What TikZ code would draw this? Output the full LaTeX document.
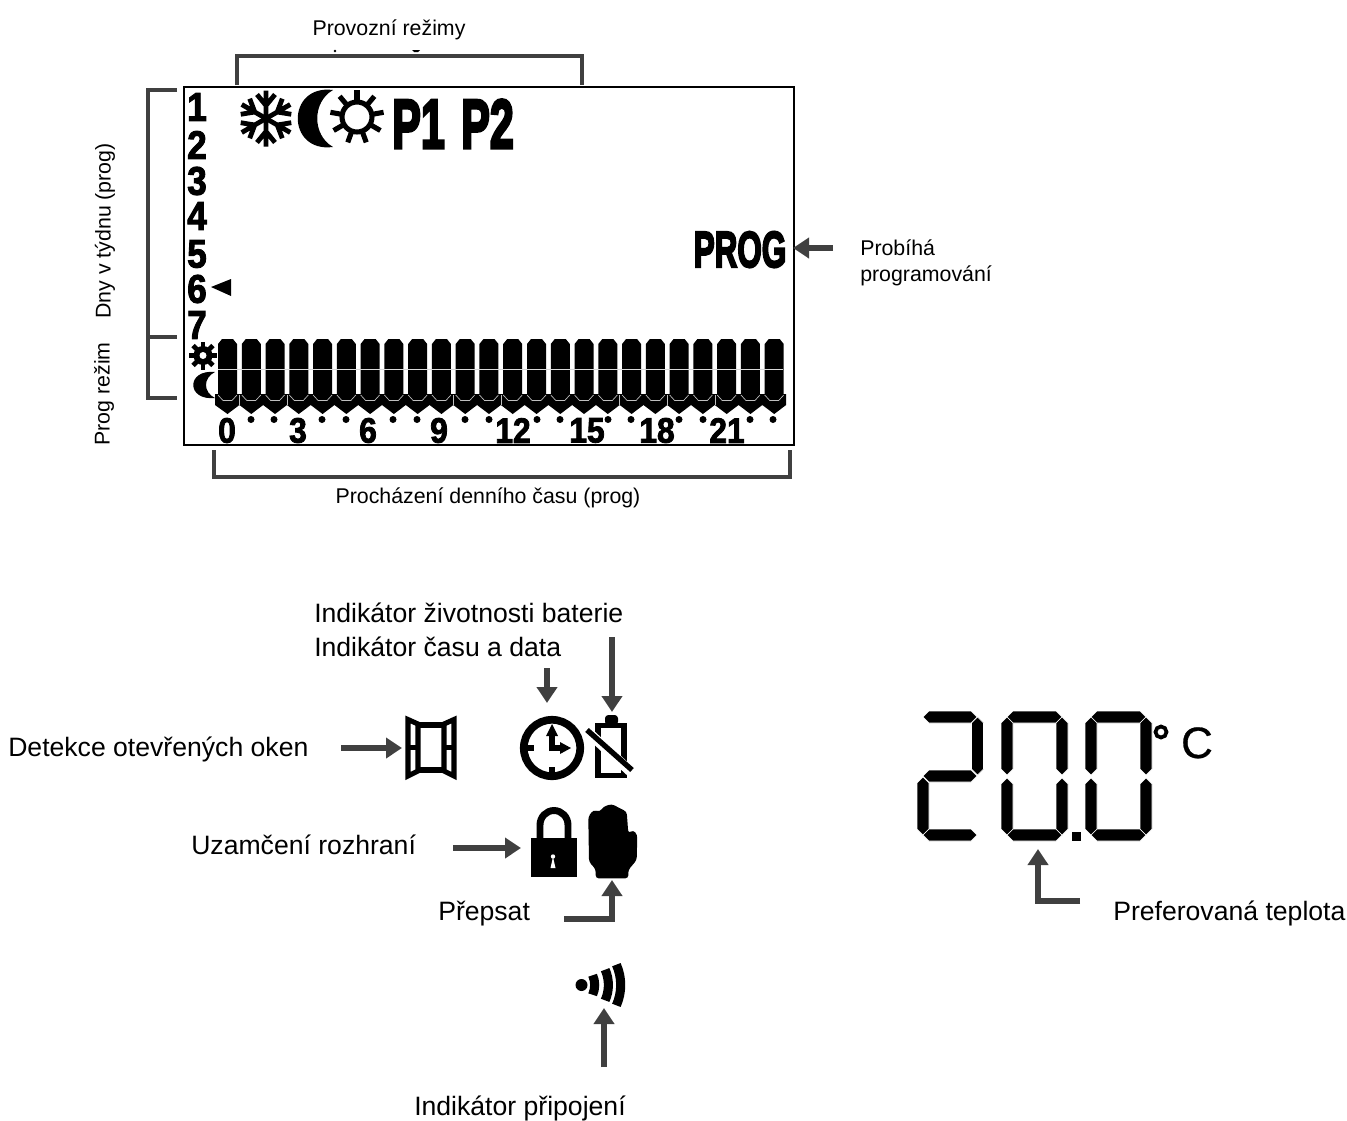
\documentclass[tikz,border=0pt]{standalone}
\usepackage{fontspec}
\usepackage{graphicx}
\setmainfont{Liberation Sans}
\newfontfamily\heavy{Liberation Sans}[UprightFont=* Bold,FakeBold=2.5]
\newfontfamily\heavier{Liberation Sans}[UprightFont=* Bold,FakeBold=4.5]
\newfontfamily\medfont{Liberation Sans}[FakeBold=.6]
\usetikzlibrary{arrows.meta}
\definecolor{arrowgrey}{HTML}{404040}
\newcommand{\smalltxt}{\fontsize{16}{20}\selectfont}
\newcommand{\bigtxt}{\fontsize{19.95}{25}\selectfont}
\newcommand{\condtxt}[3]{\scalebox{#2}[1]{\fontsize{#1}{#1}\heavier #3}}
\newcommand{\hseg}[3]{\fill[black,draw=white,line width=.5pt] (#1,#3) -- ({#1+6},{#3-6}) -- ({#2-6},{#3-6}) -- (#2,#3) -- ({#2-6},{#3+6}) -- ({#1+6},{#3+6}) -- cycle;}
\newcommand{\vseg}[3]{\fill[black,draw=white,line width=.5pt] (#1,#2) -- ({#1+6},{#2+6}) -- ({#1+6},{#3-6}) -- (#1,#3) -- ({#1-6},{#3-6}) -- ({#1-6},{#2+6}) -- cycle;}
\tikzset{
  x=.75pt,y=-.75pt,
  bracketline/.style={draw=arrowgrey,line width=3pt},
  callout/.style={draw=arrowgrey,line width=4.4pt,-{Triangle[length=12pt,width=15pt]}},
  lab/.style={inner sep=0pt,anchor=base west},
  labc/.style={inner sep=0pt,anchor=base},
  smalllab/.style={lab,font=\smalltxt},
  biglab/.style={lab,font=\bigtxt},
  daynum/.style={inner sep=0pt},
  hournum/.style={inner sep=0pt},
}
\begin{document}
\begin{tikzpicture}
\useasboundingbox (0,0) rectangle (1347,1121);
% display frame
\node[draw=black,line width=1.6pt,inner sep=0pt,minimum width=610*.75pt,minimum height=358*.75pt,anchor=north west] (display) at (183,86) {};
% brackets
\coordinate (ta) at (237,85); \coordinate (tb) at (582,85);
\draw[bracketline] (ta) -- (237,56) -- (582,56) -- (tb);
\coordinate (la) at (177,90); \coordinate (lb) at (177,398); \coordinate (lm) at (177,337);
\draw[bracketline] (la) -- (148,90) -- (148,398) -- (lb);
\draw[bracketline] (148,337) -- (lm);
\coordinate (ba) at (214,450); \coordinate (bb) at (790,450);
\draw[bracketline] (ba) -- (214,477) -- (790,477) -- (bb);
\fill (335,51) circle (1pt);
\fill (412,50) -- (420,50) -- (418,52) -- (414,52) -- cycle;
% labels
\node[labc,font=\smalltxt] (modes) at (389,35) {Provozní režimy};
\node[inner sep=0pt,font=\smalltxt,rotate=90] (days) at (105,231) {Dny v týdnu (prog)};
\node[inner sep=0pt,font=\smalltxt,rotate=90] (progmode) at (104,394) {Prog režim};
\node[labc,font=\smalltxt] (daytime) at (488,503) {Procházení denního času (prog)};
\node[smalllab] (prog1) at (860,255) {Probíhá};
\node[smalllab] (prog2) at (860,281) {programování};
\node[biglab] (battery) at (314,622) {Indikátor životnosti baterie};
\node[biglab] (clock) at (314,656) {Indikátor času a data};
\node[biglab] (window) at (8,756) {Detekce otevřených oken};
\node[biglab] (lock) at (191,854) {Uzamčení rozhraní};
\node[biglab] (override) at (438,920) {Přepsat};
\node[biglab] (wifi) at (414,1115) {Indikátor připojení};
\node[biglab] (pref) at (1113,920) {Preferovaná teplota};
% day numbers
\foreach \n/\yy in {1/107,2/145,3/181,4/216,5/254,6/289,7/325}
  \node[daynum] (day\n) at (197,\yy) {\scalebox{.88}[1]{\fontsize{30}{30}\heavy \n}};
\fill (211,287) -- (231,279) -- (231,296) -- cycle;
% snowflake
\foreach \a in {30,90,150,210,270,330}
  \draw[black,line width=3.6pt,shift={(266,118.5)},rotate=\a] (0,0) -- (28,0) (13,0) -- (24,9) (13,0) -- (24,-9);
% big moon
\fill (333,90) .. controls (286,84) and (286,153) .. (333,147) .. controls (312,135) and (312,102) .. cycle;
% sun
\draw[black,line width=3.8pt] (357,117) circle (15);
\foreach \a in {90,130,170,210,250,290,330,370,410}
  \draw[black,line width=3.8pt,shift={(357,117)},rotate=\a] (17,0) -- (27,0);
% P1 P2 PROG
\node[inner sep=0pt,anchor=base] (p1) at (418.5,148) {\condtxt{52}{.62}{P1}};
\node[inner sep=0pt,anchor=base] (p2) at (487.5,148) {\condtxt{52}{.62}{P2}};
\node[inner sep=0pt,anchor=base] (progt) at (740,267) {\condtxt{38}{.62}{PROG}};
% small sun and moon
\fill (203,355.5) circle (9.5);
\foreach \a in {0,45,...,315}
  \draw[black,line width=3.6pt,shift={(203,355.5)},rotate=\a] (0,0) -- (14,0);
\fill[white] (203,355.5) circle (3.5);
\fill (215,372) .. controls (186,369) and (186,401) .. (215,398) .. controls (203,392) and (203,378) .. cycle;
% bottom zigzag band
\fill (215,394) -- (215,405)
  \foreach \i in {0,...,23} { -- ({227.5+23.77*\i},414) -- ({239.4+23.77*\i},405) } -- (786,405) -- (786,394) -- cycle;
% bars
\foreach \i in {0,...,23} {
  \pgfmathsetmacro{\bx}{218+23.77*\i}
  \fill (\bx,344) -- ({\bx+4},339) -- ({\bx+15},339) -- ({\bx+19},344) -- ({\bx+19},395) -- ({\bx+14},400.5) -- ({\bx+5},400.5) -- (\bx,395) -- cycle;
  \draw[white!75!black,line width=.5pt] (\bx,395) -- ({\bx+5},400.5) -- ({\bx+14},400.5) -- ({\bx+19},395);
}
\draw[white!85!black,line width=.6pt] (218,369) -- (783,369);
\foreach \sx in {239,287,453,501,619,667,715}
  \draw[white!75!black,line width=.5pt] (\sx,395) -- (\sx,405);
% hour marks
\foreach \t/\hx in {0/227,3/298,6/368,9/439,12/513,15/587,18/657,21/727}
  \node[hournum] (hour\t) at (\hx,430.5) {\scalebox{.9}[1]{\fontsize{26.5}{26.5}\heavy \t}};
\foreach \dx in {251,274,322,346,393,417,465,489,537,560,608,631,679,703,750,773}
  \fill (\dx,419.5) circle (3.5);
% window icon
\begin{scope}[line width=3.8pt,draw=black,miter limit=10]
  \draw (408,719.5) -- (418,724) -- (418,771) -- (408,776) -- cycle;
  \draw (454,719.5) -- (444,724) -- (444,771) -- (454,776) -- cycle;
  \draw[line width=5pt] (418,725) -- (444,725);
  \draw (418,770) -- (444,770);
  \draw (407,747.5) -- (418,747.5) (444,747.5) -- (455,747.5);
\end{scope}
\coordinate (windowicon) at (402,748);
% clock icon
\draw[black,line width=5.8pt] (552,748) circle (28.2);
\draw[black,line width=4.6pt] (552,751) -- (552,735);
\draw[black,line width=4.6pt] (549,748) -- (562,748);
\fill (552,724) -- (558,736) -- (546,736) -- cycle;
\fill (571,748) -- (560,742) -- (560,754) -- cycle;
\fill (527,745) rectangle (534,751);
\fill (549,767) rectangle (555,775);
\coordinate (clockicon) at (547,703);
% battery icon
\draw[black,line width=4.4pt] (598,725.5) rectangle (624,775.5);
\fill[rounded corners=2.5pt] (605,725) -- (605,715) -- (618,715) -- (618,725) -- cycle;
\draw[white,line width=7.5pt] (589,733) -- (632,773);
\draw[black,line width=4pt] (587,730) -- (632,770);
\coordinate (batteryicon) at (612,712);
% lock icon
\fill (531,838) rectangle (577,877);
\draw[black,line width=5.2pt] (540,840) -- (540,825) arc[start angle=180,end angle=0,x radius=14,y radius=-14.5] -- (568,840);
\fill[white] (553,856.5) circle (2.2);
\fill[white] (553,857) -- (555.5,868) -- (550.5,868) -- cycle;
\coordinate (lockicon) at (521,848);
% hand icon
\fill[rounded corners=2.2pt] (595.7,878.3) -- (595.7,869.3) -- (589,861.7) -- (588.3,816.7) -- (593.3,810) -- (600,811.7) -- (603.3,806.7) -- (611.7,804) -- (620,808.3) -- (626.7,811.7) -- (628.3,833.3) -- (633.3,830) -- (637.3,835) -- (636.7,860) -- (628.3,870) -- (628.3,878.3) -- cycle;
\coordinate (handicon) at (612,880);
% wifi icon
\fill (581.5,985) circle (6);
\foreach \rr in {24,37.7,50}
  \draw[black,line width=6.8pt] ({570.7+\rr*cos(24)},{985-\rr*sin(24)}) arc[start angle=24,end angle=-24,radius=\rr,y radius=-\rr];
\coordinate (wifiicon) at (604,1008);
% temperature
\hseg{923}{977}{717}\vseg{977.5}{717}{775}\hseg{923}{977}{776}\vseg{923}{777}{835}\hseg{923}{977}{835}
\foreach \ax/\bx in {1007/1062,1091/1146} {
  \hseg{\ax}{\bx}{717}\hseg{\ax}{\bx}{835}
  \vseg{\ax}{717}{775}\vseg{\ax}{778}{835}
  \vseg{\bx}{717}{775}\vseg{\bx}{778}{835}
}
\fill (1072,832) rectangle (1081,841);
\draw[black,line width=2.8pt] (1161,732) circle (5.5);
\node[inner sep=0pt,anchor=base,font=\fontsize{33}{33}\medfont] (cunit) at (1197,758) {C};
\coordinate (tempicon) at (1038,849);
\coordinate (progicon) at (793,248);
% callout tails
\coordinate (t1) at (833,248);
\coordinate (t2) at (341,748);
\coordinate (t3) at (547,668);
\coordinate (t4) at (612,637);
\coordinate (t5) at (453,848);
\coordinate (t6) at (564,919);
\coordinate (t7) at (604,1067);
\coordinate (t8) at (1080,901);
\draw[callout] (t1) -- (progicon);
\draw[callout] (t2) -- (windowicon);
\draw[callout] (t3) -- (clockicon);
\draw[callout] (t4) -- (batteryicon);
\draw[callout] (t5) -- (lockicon);
\draw[callout] (t6) -- (612,919) -- (handicon);
\draw[callout] (t7) -- (wifiicon);
\draw[callout] (t8) -- (1038,901) -- (tempicon);
\end{tikzpicture}
\end{document}
